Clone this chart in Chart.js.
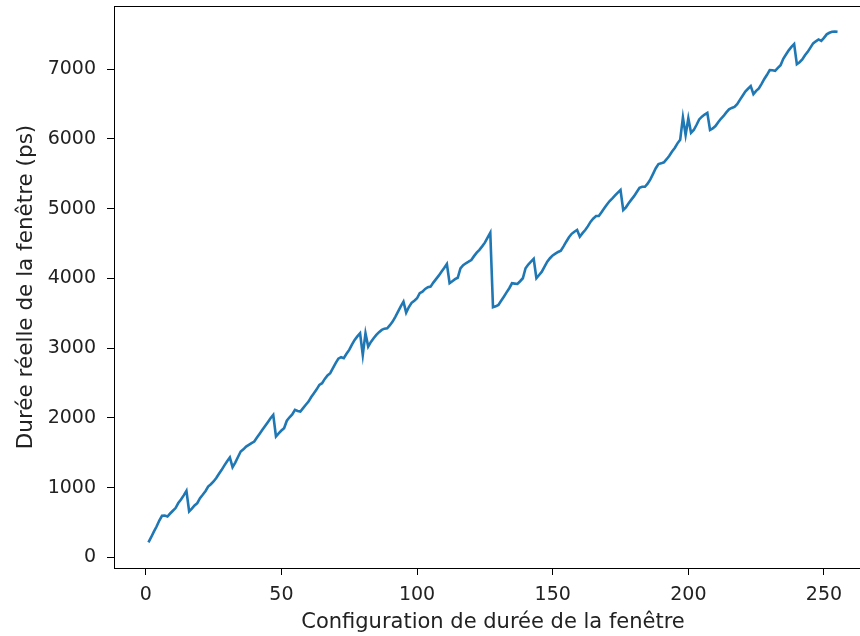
<!DOCTYPE html>
<html>
<head>
<meta charset="utf-8">
<script src="https://cdn.jsdelivr.net/npm/chart.js@4"></script>
<style>
  html, body { margin: 0; padding: 0; background: #fff; overflow: hidden; }
  #wrap { width: 880px; height: 636px; }
</style>
</head>
<body>
<div id="wrap"><canvas id="windowChart" width="880" height="636"></canvas></div>
<script>
// window duration config index starts at 1
const firstConfig = 1;
const dureeReelle = [
    215, 290, 370, 444, 530, 597, 600, 587, 630, 670,
    708, 780, 830, 890, 955, 659, 700, 745, 779, 850,
    898, 950, 1017, 1050, 1089, 1140, 1200, 1256, 1320, 1380,
    1433, 1295, 1360, 1440, 1519, 1550, 1590, 1615, 1640, 1662,
    1720, 1775, 1830, 1885, 1940, 1995, 2044, 1734, 1780, 1820,
    1854, 1960, 2010, 2050, 2116, 2100, 2092, 2140, 2190, 2235,
    2300, 2355, 2410, 2474, 2498, 2560, 2610, 2642, 2715, 2785,
    2850, 2871, 2857, 2920, 2976, 3050, 3119, 3170, 3215, 2904,
    3215, 3023, 3090, 3143, 3190, 3230, 3262, 3280, 3286, 3330,
    3381, 3450, 3524, 3600, 3668, 3510, 3590, 3650, 3682, 3716,
    3788, 3811, 3850, 3874, 3883, 3940, 3990, 4040, 4097, 4150,
    4208, 3931, 3960, 3990, 4010, 4146, 4190, 4218, 4240, 4265,
    4320, 4370, 4410, 4460, 4513, 4585, 4656, 3587, 3600, 3620,
    3680, 3739, 3800, 3860, 3931, 3926, 3921, 3960, 4003, 4146,
    4200, 4240, 4280, 4003, 4050, 4097, 4170, 4241, 4290, 4330,
    4356, 4380, 4398, 4460, 4527, 4590, 4640, 4670, 4695, 4599,
    4650, 4695, 4750, 4814, 4860, 4895, 4895, 4950, 5006, 5060,
    5110, 5149, 5190, 5230, 5268, 4981, 5020, 5077, 5130, 5180,
    5240, 5300, 5315, 5315, 5360, 5420, 5500, 5580, 5640, 5650,
    5665, 5710, 5760, 5820, 5870, 5937, 5990, 6309, 6056, 6295,
    6089, 6128, 6200, 6280, 6320, 6350, 6375, 6128, 6150, 6185,
    6240, 6290, 6330, 6380, 6424, 6445, 6460, 6500, 6560, 6620,
    6680, 6720, 6758, 6643, 6690, 6725, 6790, 6860, 6920, 6987,
    6985, 6977, 7020, 7058, 7150, 7210, 7270, 7320, 7360, 7073,
    7100, 7140, 7200, 7249, 7310, 7370, 7400, 7427, 7407, 7450,
    7500, 7522, 7536, 7540, 7536
];
const xTicks = [0, 50, 100, 150, 200, 250];
const yTicks = [0, 1000, 2000, 3000, 4000, 5000, 6000, 7000];

const points = dureeReelle.map((v, i) => ({ x: firstConfig + i, y: v }));

// matplotlib style 5% margins
const xLo = firstConfig, xHi = firstConfig + dureeReelle.length - 1;
const yLo = Math.min(...dureeReelle), yHi = Math.max(...dureeReelle);
const xPad = (xHi - xLo) * 0.05, yPad = (yHi - yLo) * 0.05;

const fontFam = "'DejaVu Sans', sans-serif";
const txt = "#222";

const frame = {
    id: "frame",
    afterDraw(chart) {
        const a = chart.chartArea;
        const ctx = chart.ctx;
        ctx.save();
        ctx.strokeStyle = "#000";
        ctx.lineWidth = 1;
        ctx.strokeRect(a.left + 0.5, a.top + 0.5, a.right - a.left, a.bottom - a.top);
        ctx.restore();
    },
};

new Chart(document.getElementById("windowChart").getContext("2d"), {
    type: "line",
    data: {
        datasets: [
            {
                data: points,
                borderColor: "#1f77b4",
                borderWidth: 2.6,
                pointRadius: 0,
                tension: 0,
                fill: false,
            },
        ],
    },
    options: {
        responsive: false,
        animation: false,
        layout: { padding: { top: 6, right: 8, left: 0, bottom: 0 } },
        plugins: { legend: { display: false }, tooltip: { enabled: false } },
        scales: {
            x: {
                type: "linear",
                min: xLo - xPad,
                max: xHi + xPad,
                afterBuildTicks: (s) => { s.ticks = xTicks.map((v) => ({ value: v })); },
                afterFit: (s) => { s.height = 68; s.paddingLeft = 0; s.paddingRight = 0; },
                grid: { drawOnChartArea: false, tickLength: 7, tickColor: "#000" },
                border: { color: "#000", width: 1 },
                ticks: {
                    color: txt, font: { family: fontFam, size: 19 }, padding: 9, maxRotation: 0,
                    callback: (v) => String(v),
                },
                title: {
                    display: true,
                    text: "Configuration de durée de la fenêtre",
                    color: txt,
                    font: { family: fontFam, size: 21 },
                    padding: { top: 0, bottom: 1 },
                },
            },
            y: {
                min: yLo - yPad,
                max: yHi + yPad,
                afterBuildTicks: (s) => { s.ticks = yTicks.map((v) => ({ value: v })); },
                afterFit: (s) => { s.width = 114; s.paddingTop = 0; s.paddingBottom = 0; },
                grid: { drawOnChartArea: false, tickLength: 7, tickColor: "#000" },
                border: { color: "#000", width: 1 },
                ticks: {
                    color: txt, font: { family: fontFam, size: 19 }, padding: 11,
                    callback: (v) => String(v),
                },
                title: {
                    display: true,
                    text: "Durée réelle de la fenêtre (ps)",
                    color: txt,
                    font: { family: fontFam, size: 21.5 },
                    padding: { top: 14, bottom: 0 },
                },
            },
        },
    },
    plugins: [frame],
});
</script>
</body>
</html>
